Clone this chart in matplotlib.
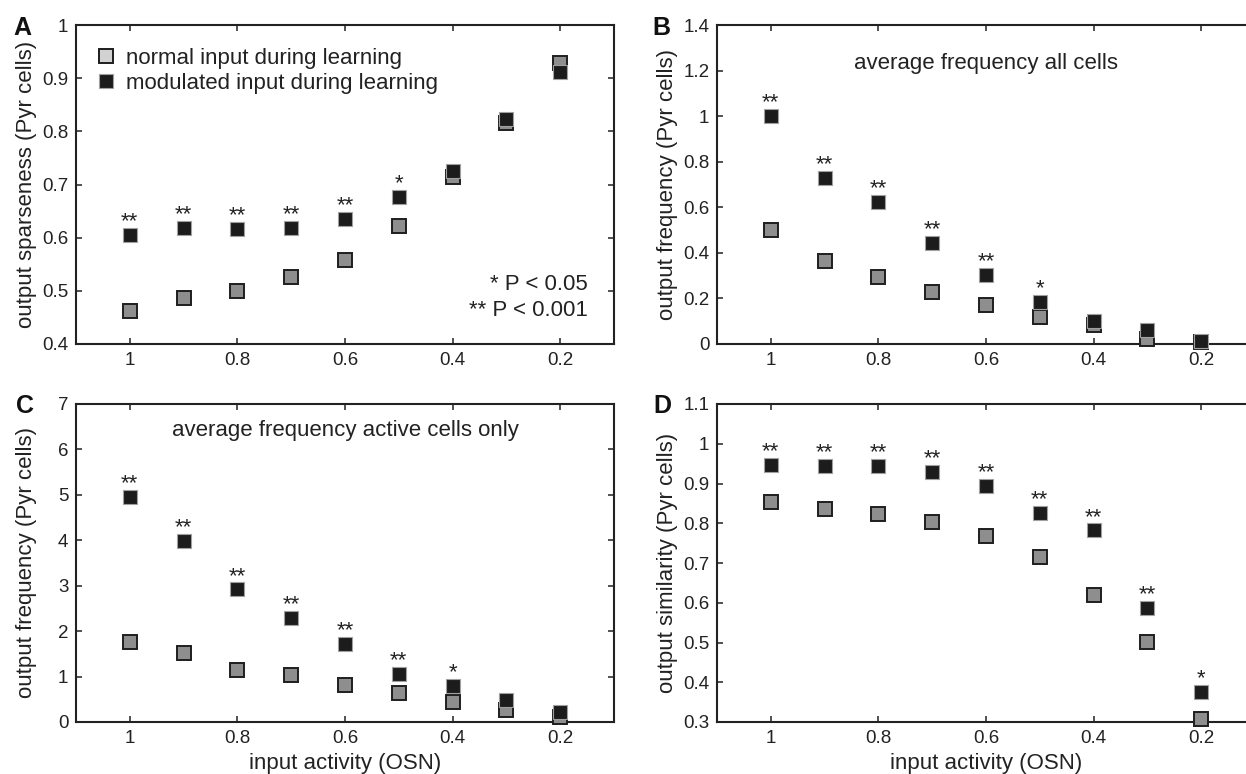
import matplotlib
matplotlib.use("Agg")
import matplotlib.pyplot as plt
from matplotlib.lines import Line2D

plt.rcParams['font.family'] = ['Liberation Sans', 'DejaVu Sans']

# Input activity levels (OSN), shared x values for all panels
input_activity = [1.0, 0.9, 0.8, 0.7, 0.6, 0.5, 0.4, 0.3, 0.2]
x_ticks = [1.0, 0.8, 0.6, 0.4, 0.2]
x_tick_labels = ["1", "0.8", "0.6", "0.4", "0.2"]

# A: output sparseness
sparseness_normal = [0.462, 0.486, 0.500, 0.526, 0.558, 0.622, 0.714, 0.815, 0.928]
sparseness_modulated = [0.605, 0.619, 0.616, 0.618, 0.636, 0.677, 0.726, 0.824, 0.911]
sparseness_sig = ["**", "**", "**", "**", "**", "*", "", "", ""]
sparseness_yticks = [0.4, 0.5, 0.6, 0.7, 0.8, 0.9, 1.0]
sparseness_ylabels = ["0.4", "0.5", "0.6", "0.7", "0.8", "0.9", "1"]

# B: average frequency, all cells
freq_all_normal = [0.500, 0.366, 0.296, 0.230, 0.171, 0.117, 0.083, 0.022, 0.010]
freq_all_modulated = [1.002, 0.730, 0.622, 0.442, 0.303, 0.183, 0.101, 0.061, 0.015]
freq_all_sig = ["**", "**", "**", "**", "**", "*", "", "", ""]
freq_all_yticks = [0.0, 0.2, 0.4, 0.6, 0.8, 1.0, 1.2, 1.4]
freq_all_ylabels = ["0", "0.2", "0.4", "0.6", "0.8", "1", "1.2", "1.4"]

# C: average frequency, active cells only
freq_active_normal = [1.77, 1.52, 1.15, 1.03, 0.81, 0.64, 0.45, 0.27, 0.10]
freq_active_modulated = [4.95, 3.98, 2.92, 2.29, 1.72, 1.06, 0.79, 0.48, 0.23]
freq_active_sig = ["**", "**", "**", "**", "**", "**", "*", "", ""]
freq_active_yticks = [0, 1, 2, 3, 4, 5, 6, 7]
freq_active_ylabels = ["0", "1", "2", "3", "4", "5", "6", "7"]

# D: output similarity
similarity_normal = [0.853, 0.836, 0.823, 0.804, 0.767, 0.715, 0.620, 0.502, 0.308]
similarity_modulated = [0.947, 0.945, 0.944, 0.929, 0.893, 0.827, 0.782, 0.587, 0.376]
similarity_sig = ["**", "**", "**", "**", "**", "**", "**", "**", "*"]
similarity_yticks = [0.3, 0.4, 0.5, 0.6, 0.7, 0.8, 0.9, 1.0, 1.1]
similarity_ylabels = ["0.3", "0.4", "0.5", "0.6", "0.7", "0.8", "0.9", "1", "1.1"]

legend_labels = ["normal input during learning", "modulated input during learning"]

GRAY_FILL = "#8e8e8e"
DARK_EDGE = "#1e1e1e"
BLACK_FILL = "#1c1c1c"
LIGHT_EDGE = "#a0a0a0"
LEGEND_GRAY = "#d2d2d2"
TEXT = "#222222"

LABEL_FS = 16
TICK_FS = 13.5
MS = 10.5

fig = plt.figure(figsize=(12.46, 7.74), dpi=100)

W, H = 1246.0, 774.0
ax_w, ax_h_top, ax_h_bot = 538 / W, 319 / H, 318 / H
axA = fig.add_axes([76 / W, 1 - 344 / H, ax_w, ax_h_top])
axB = fig.add_axes([717 / W, 1 - 344 / H, ax_w, ax_h_top])
axC = fig.add_axes([76 / W, 1 - 722 / H, ax_w, ax_h_bot])
axD = fig.add_axes([717 / W, 1 - 722 / H, ax_w, ax_h_bot])


def draw_panel(ax, normal, modulated, sig, yticks, ylabels, ylabel, xlabel=None):
    ax.plot(input_activity, normal, linestyle="none", marker="s", markersize=MS,
            markerfacecolor=GRAY_FILL, markeredgecolor=DARK_EDGE, markeredgewidth=1.4,
            clip_on=False, zorder=3)
    ax.plot(input_activity, modulated, linestyle="none", marker="s", markersize=MS,
            markerfacecolor=BLACK_FILL, markeredgecolor=LIGHT_EDGE, markeredgewidth=0.8,
            clip_on=False, zorder=4)
    for xv, yv, s in zip(input_activity, modulated, sig):
        if s:
            ax.annotate(s, (xv, yv), xytext=(0, 5.5), textcoords="offset points",
                        ha="center", va="baseline", fontsize=16, color=TEXT)
    ax.set_xlim(1.1, 0.1)
    ax.set_ylim(yticks[0], yticks[-1])
    ax.set_xticks(x_ticks)
    ax.set_xticklabels(x_tick_labels)
    ax.set_yticks(yticks)
    ax.set_yticklabels(ylabels)
    ax.tick_params(direction="in", length=4.5, width=1.1, top=True, right=True,
                   labelsize=TICK_FS, pad=5.5, colors=TEXT)
    for sp in ax.spines.values():
        sp.set_linewidth(1.5)
        sp.set_color(TEXT)
    ax.set_ylabel(ylabel, fontsize=LABEL_FS, va="center", color=TEXT)
    ax.yaxis.set_label_coords(-49 / 538, 0.5)
    if xlabel:
        ax.set_xlabel(xlabel, fontsize=LABEL_FS, va="center", color=TEXT)
        ax.xaxis.set_label_coords(0.5, -41 / 318)


draw_panel(axA, sparseness_normal, sparseness_modulated, sparseness_sig,
           sparseness_yticks, sparseness_ylabels, "output sparseness (Pyr cells)")
draw_panel(axB, freq_all_normal, freq_all_modulated, freq_all_sig,
           freq_all_yticks, freq_all_ylabels, "output frequency (Pyr cells)")
draw_panel(axC, freq_active_normal, freq_active_modulated, freq_active_sig,
           freq_active_yticks, freq_active_ylabels, "output frequency (Pyr cells)",
           xlabel="input activity (OSN)")
draw_panel(axD, similarity_normal, similarity_modulated, similarity_sig,
           similarity_yticks, similarity_ylabels, "output similarity (Pyr cells)",
           xlabel="input activity (OSN)")

# Legend for panel A
handles = [
    Line2D([], [], linestyle="none", marker="s", markersize=MS,
           markerfacecolor=LEGEND_GRAY, markeredgecolor=DARK_EDGE, markeredgewidth=1.4),
    Line2D([], [], linestyle="none", marker="s", markersize=MS,
           markerfacecolor=BLACK_FILL, markeredgecolor=LIGHT_EDGE, markeredgewidth=0.8),
]
axA.legend(handles, legend_labels, loc="upper left", bbox_to_anchor=(0.0, 0.99),
           frameon=False, fontsize=LABEL_FS, handlelength=0.9, handletextpad=0.45,
           labelspacing=0.15, borderaxespad=0.5, labelcolor=TEXT)

# Significance key
axA.text(0.952, 0.185, "* P < 0.05", transform=axA.transAxes, ha="right", va="center",
         fontsize=LABEL_FS, color=TEXT)
axA.text(0.952, 0.105, "** P < 0.001", transform=axA.transAxes, ha="right", va="center",
         fontsize=LABEL_FS, color=TEXT)

axB.text(0.6, 1.232, "average frequency all cells", ha="center", va="center",
         fontsize=LABEL_FS, color=TEXT)
axC.text(0.6, 6.41, "average frequency active cells only", ha="center", va="center",
         fontsize=LABEL_FS, color=TEXT)

# Panel letters
for letter, (px, py) in zip("ABCD", [(22, 35), (661, 35), (25, 413), (662, 413)]):
    fig.text(px / W, 1 - py / H, letter, ha="center", va="baseline",
             fontsize=18, fontweight="bold", color="#111111")

fig.savefig("out.png", dpi=100)
